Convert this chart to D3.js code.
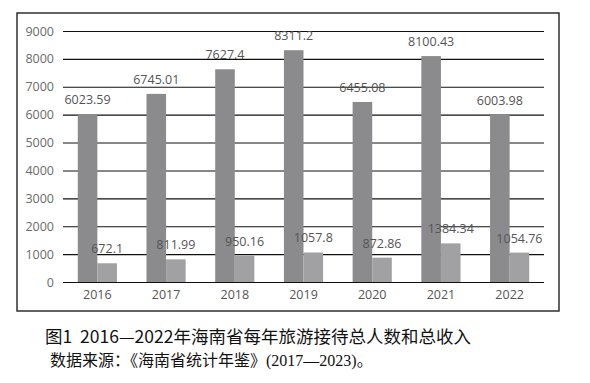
<!DOCTYPE html>
<html><head><meta charset="utf-8">
<script src="https://cdn.jsdelivr.net/npm/d3@7"></script>
<style>body{margin:0;background:#fff}svg{display:block}</style>
</head><body>
<svg id="c" width="590" height="383"></svg>
<script>
const years = ["2016","2017","2018","2019","2020","2021","2022"];
const visitors = [6023.59, 6745.01, 7627.4, 8311.2, 6455.08, 8100.43, 6003.98];
const income = [672.1, 811.99, 950.16, 1057.8, 872.86, 1384.34, 1054.76];
const yTicks = [0,1000,2000,3000,4000,5000,6000,7000,8000,9000];
const title = "图1  2016—2022年海南省每年旅游接待总人数和总收入";
const source = "数据来源：《海南省统计年鉴》(2017—2023)。";

(function(){
const svg = d3.select("#c");
svg.append("rect").attr("x",17).attr("y",13).attr("width",542).attr("height",298)
  .attr("fill","none").attr("stroke","#222").attr("stroke-width",1.4);

const pL=63, pR=544, pT=31, pB=282;
const x0 = d3.scaleBand().domain(years).range([pL,pR]).paddingInner(0.43).paddingOuter(0.215);
const x1 = d3.scaleBand().domain(["v","i"]).range([0,x0.bandwidth()]);
const y = d3.scaleLinear().domain([0,9000]).range([pB,pT]);

const yAxis = d3.axisLeft(y).tickValues(yTicks).tickFormat(d3.format("d")).tickSize(-(pR-pL)).tickPadding(9);
const ga = svg.append("g").attr("transform",`translate(${pL},0)`).call(yAxis);
ga.select(".domain").remove();
ga.selectAll(".tick line").attr("stroke","#111").attr("stroke-width",1.1);
ga.selectAll(".tick text").attr("fill","#6a6a6a").attr("font-size",12.5).attr("font-family","Open Sans, sans-serif");

const xAxis = d3.axisBottom(x0).tickSize(0).tickPadding(8);
const gx = svg.append("g").attr("transform",`translate(0,${pB})`).call(xAxis);
gx.select(".domain").remove();
gx.selectAll(".tick text").attr("fill","#555").attr("font-size",12.5).attr("font-family","Open Sans, sans-serif");

const series = [{k:"v",vals:visitors,color:"#8b8b8d"},{k:"i",vals:income,color:"#a1a1a3"}];
series.forEach(s=>{
  const g = svg.append("g");
  g.selectAll("rect").data(years).join("rect")
    .attr("x",d=>x0(d)+x1(s.k)).attr("width",x1.bandwidth())
    .attr("y",(d,i)=>y(s.vals[i])).attr("height",(d,i)=>pB-y(s.vals[i]))
    .attr("fill",s.color);
  g.selectAll("text").data(years).join("text")
    .attr("x",d=>x0(d)+x1(s.k)+x1.bandwidth()/2)
    .attr("y",(d,i)=>y(s.vals[i])-10)
    .attr("text-anchor","middle").attr("fill","#555")
    .attr("font-size",12.5).attr("font-family","Open Sans, sans-serif")
    .text((d,i)=>s.vals[i]);
});

svg.append("text").attr("x",45).attr("y",343).attr("fill","#111")
  .attr("font-size",17.5).attr("font-family","Noto Sans CJK SC, sans-serif")
  .style("white-space","pre").text(title);
svg.append("text").attr("x",50).attr("y",366).attr("fill","#111")
  .attr("font-size",16).attr("font-family","Liberation Serif, Noto Sans CJK SC, serif")
  .text(source);
})();
</script>
</body></html>
